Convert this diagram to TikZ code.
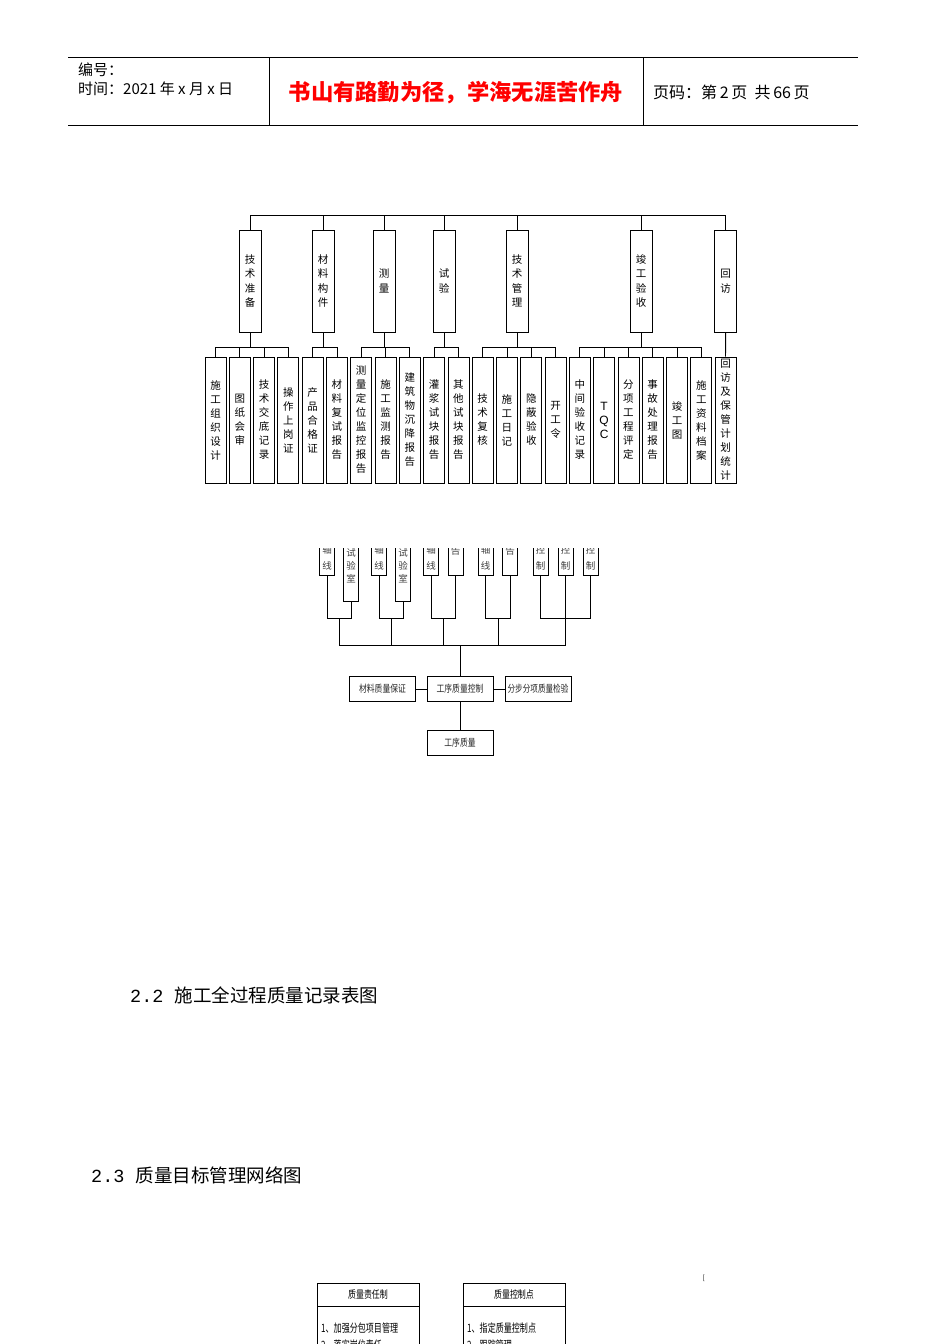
\documentclass[tikz,border=0pt]{standalone}
\usepackage{fontspec}
\setmainfont{Liberation Serif}
\newfontfamily\cjk{Noto Sans CJK SC}
\newfontfamily\monof{Liberation Mono}
\newfontfamily\sansf{Liberation Sans}
\newcommand{\cond}[2]{\scalebox{#1}[1]{#2}}
\begin{document}
\begin{tikzpicture}[x=1pt,y=-1pt,
  cbox/.style={draw, line width=0.8pt, minimum width=21pt, minimum height=126pt, inner sep=0pt, align=center, font=\cjk\fontsize{10.5}{14}\selectfont},
  pbox/.style={draw, line width=0.8pt, minimum width=22pt, minimum height=102pt, inner sep=0pt, align=center, font=\cjk\fontsize{10.5}{14.5}\selectfont},
  link/.style={line width=0.8pt},
  mbox/.style={draw, line width=0.9pt, minimum width=15pt, inner sep=0pt, anchor=south},
  mtxt/.style={inner sep=0pt, align=center, font=\cjk\fontsize{9.5}{13}\selectfont, text=black!75},
  mtxtb/.style={mtxt, font=\cjk\fontsize{9.5}{16}\selectfont},
  rbox/.style={draw, line width=0.9pt, minimum width=66pt, minimum height=25pt, inner sep=0pt, font=\cjk\fontsize{10}{11}\selectfont, text=black!85},
  hdr/.style={anchor=west, inner sep=0pt, font=\cjk\fontsize{15}{17}\selectfont},
  qtxt/.style={anchor=west, inner sep=0pt, font=\cjk\fontsize{11.5}{13}\selectfont},
  qttl/.style={draw, line width=0.9pt, minimum width=102pt, minimum height=23pt, inner sep=0pt, font=\cjk\fontsize{10.5}{12}\selectfont},
  qbody/.style={draw, line width=0.9pt, minimum width=102pt, minimum height=70pt, inner sep=0pt, anchor=north}
]
\clip (0,0) rectangle (950,1344);
\fill[white] (0,0) rectangle (950,1344);

% ---------- header ----------
\draw[line width=0.8pt] (68,57) -- (858,57);
\draw[line width=0.8pt] (68,125) -- (858,125);
\draw[line width=0.6pt] (269,57) -- (269,125);
\draw[line width=0.6pt] (643,57) -- (643,125);
\node[hdr] (bh) at (78,70) {编号：};
\node[hdr] (sj) at (78,89) {时间：2021 年 x 月 x 日};
\node[inner sep=0pt, text=red, font=\cjk\bfseries\fontsize{22.3}{24}\selectfont] (motto) at (456,93) {书山有路勤为径，学海无涯苦作舟};
\node[hdr, font=\cjk\fontsize{16}{18}\selectfont] (ym) at (653,92) {页码：第\,2\,页\ \ 共\,66\,页};

% ---------- top tree ----------
\coordinate (tl) at (0,215);
\coordinate (cl) at (0,347);
\foreach \t/\x/\n in {{技\\术\\准\\备}/250/p1, {材\\料\\构\\件}/323/p2, {测\\量}/384/p3, {试\\验}/444/p4, {技\\术\\管\\理}/517/p5, {竣\\工\\验\\收}/641/p6, {回\\访}/725.6/p7}
  \node[pbox] (\n) at (\x,281) {\t};

\foreach \t [count=\i from 0] in {
  {施\\工\\组\\织\\设\\计}, {图\\纸\\会\\审}, {技\\术\\交\\底\\记\\录}, {操\\作\\上\\岗\\证},
  {产\\品\\合\\格\\证}, {材\\料\\复\\试\\报\\告},
  {测\\量\\定\\位\\监\\控\\报\\告}, {施\\工\\监\\测\\报\\告}, {建\\筑\\物\\沉\\降\\报\\告},
  {灌\\浆\\试\\块\\报\\告}, {其\\他\\试\\块\\报\\告},
  {技\\术\\复\\核}, {施\\工\\日\\记}, {隐\\蔽\\验\\收}, {开\\工\\令},
  {中\\间\\验\\收\\记\\录}, {\sansf\fontsize{12}{14}\selectfont T\\\sansf\fontsize{12}{14}\selectfont Q\\\sansf\fontsize{12}{14}\selectfont C}, {分\\项\\工\\程\\评\\定}, {事\\故\\处\\理\\报\\告}, {竣\\工\\图}, {施\\工\\资\\料\\档\\案},
  {回\\访\\及\\保\\管\\计\\划\\统\\计}}
  \node[cbox] (c\i) at ({215.5+24.29*\i},420) {\t};

\draw[link] (p1.north) -- (p1.north |- tl) -- (p7.north |- tl) -- (p7.north);
\foreach \n in {p2,p3,p4,p5,p6} \draw[link] (\n.north) -- (\n.north |- tl);

\draw[link] (c0.north) -- (c0.north |- cl) -- (c3.north |- cl) -- (c3.north);
\foreach \n in {c1,c2} \draw[link] (\n.north) -- (\n.north |- cl);
\draw[link] (p1.south) -- (p1.south |- cl);

\draw[link] (c4.north) -- (c4.north |- cl) -- (c5.north |- cl) -- (c5.north);
\draw[link] (p2.south) -- (p2.south |- cl);

\draw[link] (c6.north) -- (c6.north |- cl) -- (c8.north |- cl) -- (c8.north);
\draw[link] (c7.north) -- (c7.north |- cl);
\draw[link] (p3.south) -- (p3.south |- cl);

\draw[link] (c9.north) -- (c9.north |- cl) -- (c10.north |- cl) -- (c10.north);
\draw[link] (p4.south) -- (p4.south |- cl);

\draw[link] (c11.north) -- (c11.north |- cl) -- (c14.north |- cl) -- (c14.north);
\foreach \n in {c12,c13} \draw[link] (\n.north) -- (\n.north |- cl);
\draw[link] (p5.south) -- (p5.south |- cl);

\draw[link] (c15.north) -- (c15.north |- cl) -- (c20.north |- cl) -- (c20.north);
\foreach \n in {c16,c17,c18,c19} \draw[link] (\n.north) -- (\n.north |- cl);
\draw[link] (p6.south) -- (p6.south |- cl);

\draw[link] (p7.south) -- (c21.north);

% ---------- middle diagram ----------
\begin{scope}
\clip (0,548) rectangle (950,700);
\foreach \n/\x/\b in {a1/327/576, a2/351/602, b1/379/576, b2/403/602, c1/431/576, c2/455.5/576, d1/485.5/576, d2/510/576, e1/540.5/576, e2/565.5/576, e3/590.5/576}
  \node[mbox, minimum height={\b-530}] (m\n) at (\x,\b) {};
\node[mtxtb] (ta1) at (327,558) {轴\\线};
\node[mtxt] (ta2) at (351,566) {试\\验\\室};
\node[mtxtb] (tb1) at (379,558) {轴\\线};
\node[mtxt] (tb2) at (403,566) {试\\验\\室};
\node[mtxtb] (tc1) at (431,558) {轴\\线};
\node[mtxt] (tc2) at (455.5,551) {告};
\node[mtxtb] (td1) at (485.5,558) {轴\\线};
\node[mtxt] (td2) at (510,551) {告};
\node[mtxtb] (te1) at (540.5,558) {控\\制};
\node[mtxtb] (te2) at (565.5,558) {控\\制};
\node[mtxtb] (te3) at (590.5,558) {控\\制};
\end{scope}

\coordinate (gb) at (0,618);
\coordinate (mb) at (0,645);
\coordinate (j1) at (339,618);
\coordinate (j2) at (391,618);
\coordinate (j3) at (443,618);
\coordinate (j4) at (498,618);
\draw[link] (ma1.south) -- (ma1.south |- gb) -- (ma2.south |- gb) -- (ma2.south);
\draw[link] (mb1.south) -- (mb1.south |- gb) -- (mb2.south |- gb) -- (mb2.south);
\draw[link] (mc1.south) -- (mc1.south |- gb) -- (mc2.south |- gb) -- (mc2.south);
\draw[link] (md1.south) -- (md1.south |- gb) -- (md2.south |- gb) -- (md2.south);
\draw[link] (me1.south) -- (me1.south |- gb) -- (me3.south |- gb) -- (me3.south);
\draw[link] (me2.south) -- (me2.south |- mb);
\foreach \j in {j1,j2,j3,j4} \draw[link] (\j) -- (\j |- mb);
\draw[link] (j1 |- mb) -- (me2.south |- mb);

\node[rbox] (r1) at (382.5,689) {\cond{0.78}{材料质量保证}};
\node[rbox] (gx) at (460,689) {\cond{0.78}{工序质量控制}};
\node[rbox] (r3) at (538,689) {\cond{0.76}{分步分项质量检验}};
\node[rbox] (gz) at (460,743) {\cond{0.78}{工序质量}};
\draw[link] (gx.north |- mb) -- (gx.north);
\draw[link] (r1.east) -- (gx.west);
\draw[link] (gx.east) -- (r3.west);
\draw[link] (gx.south) -- (gz.north);

% ---------- section titles ----------
\node[anchor=west, inner sep=0pt, font=\fontsize{18.5}{20}\selectfont] (s22) at (130,995) {\monof 2.2 \cjk 施工全过程质量记录表图};
\node[anchor=west, inner sep=0pt, font=\fontsize{18.5}{20}\selectfont] (s23) at (91,1175) {\monof 2.3 \cjk 质量目标管理网络图};

% ---------- bottom boxes ----------
\node[qttl] (q1t) at (368,1294.5) {\cond{0.76}{质量责任制}};
\node[qbody] (q1b) at (q1t.south) {};
\node[qtxt] (q1l1) at (321,1328) {\cond{0.7}{1、加强分包项目管理}};
\node[qtxt] (q1l2) at (321,1345) {\cond{0.7}{2、落实岗位责任}};

\node[qttl] (q2t) at (514,1294.5) {\cond{0.76}{质量控制点}};
\node[qbody] (q2b) at (q2t.south) {};
\node[qtxt] (q2l1) at (467,1328) {\cond{0.7}{1、指定质量控制点}};
\node[qtxt] (q2l2) at (467,1345) {\cond{0.7}{2、跟踪管理}};

\node[inner sep=0pt, text=black!70, font=\fontsize{8}{8}\selectfont] (stray) at (704,1278) {[};
\end{tikzpicture}
\end{document}
